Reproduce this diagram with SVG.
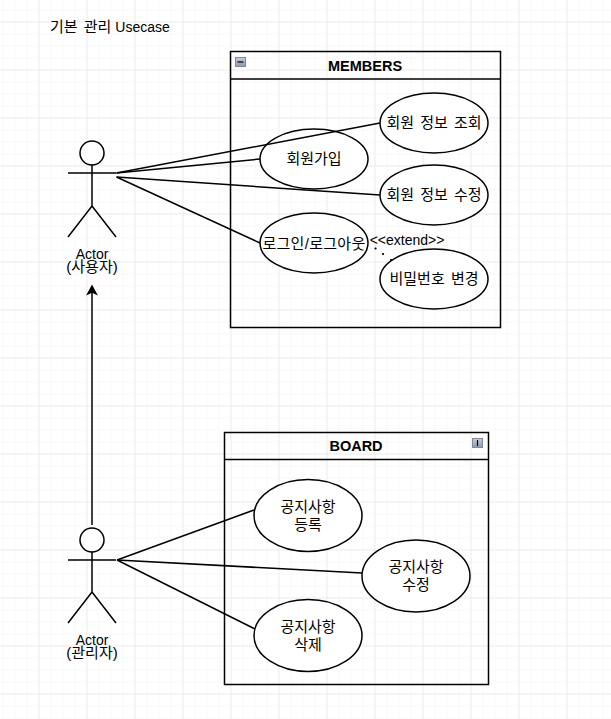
<svg xmlns="http://www.w3.org/2000/svg" width="611" height="719" viewBox="0 0 611 719">
<defs>
<pattern id="minor" width="12" height="12" patternUnits="userSpaceOnUse" x="2.5" y="9.5"><path d="M0 0H12M0 0V12" fill="none" stroke="#f3f3f3" stroke-width="1"/></pattern>
<pattern id="major" width="48" height="48" patternUnits="userSpaceOnUse" x="38.5" y="21.5"><path d="M0 0H48M0 0V48" fill="none" stroke="#e2e2e2" stroke-width="1"/></pattern>
<linearGradient id="btn" x1="0" y1="0" x2="0" y2="1"><stop offset="0" stop-color="#c4ccd8"/><stop offset="1" stop-color="#8d99ab"/></linearGradient>
<marker id="arrow" markerUnits="userSpaceOnUse" markerWidth="12" markerHeight="14" refX="5" refY="0.5" viewBox="0 0 10 13" orient="auto-start-reverse" overflow="visible"><path d="M10 0.5L0 -5L2.5 0.5L0 6Z" fill="#000"/></marker>
</defs>
<style>
text{font-family:"Liberation Sans","Noto Sans CJK KR",sans-serif;font-size:14px;fill:#000;text-anchor:middle}
.ko{font-size:15px;word-spacing:2px}
.shape{fill:#fff;stroke:#000;stroke-width:1.5}
.box{fill:none;stroke:#000;stroke-width:1.5}
.line{fill:none;stroke:#000;stroke-width:1.5}
.title{font-weight:bold;font-size:14.5px}
.btn{fill:url(#btn);stroke:#7e8a9c;stroke-width:1}
.dots{fill:none;stroke:#000;stroke-width:2.2;stroke-linecap:round}
</style>
<rect width="611" height="719" fill="#fff"/>
<rect width="611" height="719" fill="url(#minor)"/>
<rect width="611" height="719" fill="url(#major)"/>
<text x="50" y="32" id="page-title" style="text-anchor:start"><tspan class="ko">기본 관리</tspan> Usecase</text>
<g id="members">
<rect class="box" x="230.5" y="51.5" width="270" height="276"/>
<path class="line" d="M230.5 79H500.5"/>
<rect class="btn" x="235.5" y="57.5" width="10" height="9"/>
<path d="M237.5 62H243.5" stroke="#000" stroke-width="1.2"/>
<text class="title" x="365" y="71">MEMBERS</text>
</g>
<g id="board">
<rect class="box" x="224.5" y="432.5" width="264" height="252"/>
<path class="line" d="M224.5 459.5H488.5"/>
<rect class="btn" x="472.5" y="438.5" width="10" height="9"/>
<path d="M477.5 440V446" stroke="#000" stroke-width="1.2"/>
<text class="title" x="356" y="451">BOARD</text>
</g>
<g id="uc-view"><ellipse class="shape" cx="434" cy="123" rx="54" ry="30"/><text class="ko" x="434" y="128">회원 정보 조회</text></g>
<g id="uc-join"><ellipse class="shape" cx="314" cy="159" rx="54" ry="30"/><text class="ko" x="314" y="164">회원가입</text></g>
<g id="uc-edit"><ellipse class="shape" cx="434" cy="195" rx="54" ry="30"/><text class="ko" x="434" y="200">회원 정보 수정</text></g>
<g id="uc-login"><ellipse class="shape" cx="314" cy="243" rx="54" ry="30"/><text class="ko" x="314" y="249" style="letter-spacing:.3px">로그인/로그아웃</text></g>
<g id="uc-password"><ellipse class="shape" cx="434" cy="279" rx="54" ry="30"/><text class="ko" x="434" y="284">비밀번호 변경</text></g>
<text x="407" y="245" id="extend-label">&lt;&lt;extend&gt;&gt;</text>
<g id="uc-notice-add"><ellipse class="shape" cx="308" cy="515.5" rx="54" ry="36"/><text class="ko" x="308" y="512">공지사항<tspan x="308" dy="18">등록</tspan></text></g>
<g id="uc-notice-edit"><ellipse class="shape" cx="416" cy="576" rx="54" ry="36"/><text class="ko" x="416" y="572">공지사항<tspan x="416" dy="18">수정</tspan></text></g>
<g id="uc-notice-del"><ellipse class="shape" cx="308" cy="635.5" rx="54" ry="36"/><text class="ko" x="308" y="632">공지사항<tspan x="308" dy="18">삭제</tspan></text></g>
<g id="actor-user">
<circle class="shape" cx="92" cy="153" r="12"/>
<path class="line" d="M92 165V206M68 173H116M68 237L92 206L116 237"/>
<text x="92" y="259">Actor<tspan x="92" dy="13" class="ko">(사용자)</tspan></text>
</g>
<g id="actor-admin">
<circle class="shape" cx="92" cy="540" r="12"/>
<path class="line" d="M92 552V592M68 560H116M68 623L92 592L116 623"/>
<text x="92" y="645">Actor<tspan x="92" dy="13" class="ko">(관리자)</tspan></text>
</g>
<g id="connectors">
<path class="line" d="M116.500 173L380 123"/>
<path class="line" d="M116.500 173L260 159"/>
<path class="line" d="M116.500 177L380 195"/>
<path class="line" d="M116.500 177L260 243"/>
<path class="line" d="M92 525V290" marker-end="url(#arrow)"/>
<path class="line" d="M117 560L254 510"/>
<path class="line" d="M117 560L362 573"/>
<path class="line" d="M117 560L255 629"/>
<path class="dots" d="M375.500 248.500h.1M383 254h.1M391 260h.1"/>
</g>
</svg>
